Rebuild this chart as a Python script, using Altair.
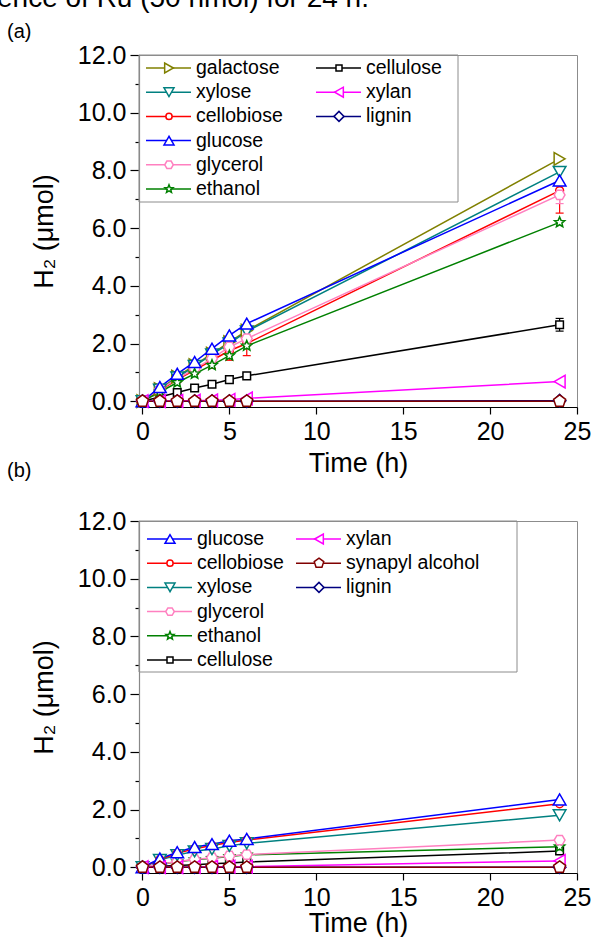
import math
import altair as alt
import pandas as pd

# Sampling times (h)
T = [0, 1, 2, 3, 4, 5, 6, 24]

# Panel (a): H2 evolved (umol)
A_GALACTOSE = [0, 0.42, 0.85, 1.25, 1.65, 2.05, 2.45, 8.40]
A_XYLOSE = [0, 0.40, 0.82, 1.22, 1.62, 2.00, 2.42, 7.95]
A_CELLOBIOSE = [0, 0.38, 0.75, 1.08, 1.42, 1.75, 2.00, 7.30]
A_GLUCOSE = [0, 0.49, 0.95, 1.36, 1.82, 2.28, 2.69, 7.65]
A_GLYCEROL = [0, 0.40, 0.78, 1.12, 1.48, 1.88, 2.17, 7.15]
A_ETHANOL = [0, 0.32, 0.65, 0.95, 1.25, 1.58, 1.92, 6.20]
A_CELLULOSE = [0, 0.15, 0.30, 0.46, 0.59, 0.75, 0.88, 2.65]
A_XYLAN = [0, 0.00, 0.01, 0.02, 0.03, 0.05, 0.10, 0.68]
A_LIGNIN = [0, 0, 0, 0, 0, 0, 0, 0.02]
A_SYNAPYL = [0, 0, 0, 0, 0, 0, 0, 0]

# Panel (a): standard deviations
A_CELLOBIOSE_ERR = [0, 0.05, 0.10, 0.15, 0.28, 0.33, 0.42, 0.78]
A_CELLULOSE_ERR = [0, 0.02, 0.03, 0.04, 0.05, 0.06, 0.08, 0.22]
A_GLYCEROL_ERR = [0, 0.03, 0.05, 0.08, 0.10, 0.12, 0.15, 0.30]

# Panel (b): H2 evolved (umol)
B_GLUCOSE = [0, 0.30, 0.52, 0.70, 0.80, 0.92, 0.98, 2.35]
B_CELLOBIOSE = [0, 0.27, 0.48, 0.64, 0.75, 0.86, 0.94, 2.20]
B_XYLOSE = [0, 0.25, 0.42, 0.55, 0.63, 0.74, 0.83, 1.80]
B_GLYCEROL = [0, 0.10, 0.20, 0.27, 0.33, 0.39, 0.44, 0.94]
B_ETHANOL = [0, 0.10, 0.19, 0.26, 0.31, 0.37, 0.43, 0.71]
B_CELLULOSE = [0, 0.03, 0.06, 0.09, 0.12, 0.15, 0.18, 0.56]
B_XYLAN = [0, 0.00, 0.00, 0.01, 0.01, 0.02, 0.02, 0.22]
B_SYNAPYL = [0, 0, 0, 0, 0, 0, 0, 0]
B_LIGNIN = [0, 0, 0, 0, 0, 0, 0, 0]

# Legend columns
A_LEGEND = [["galactose", "xylose", "cellobiose", "glucose", "glycerol", "ethanol"],
            ["cellulose", "xylan", "lignin"]]
B_LEGEND = [["glucose", "cellobiose", "xylose", "glycerol", "ethanol", "cellulose"],
            ["xylan", "synapyl alcohol", "lignin"]]

SERIES = ["galactose", "xylose", "cellobiose", "glucose", "glycerol", "ethanol",
          "cellulose", "xylan", "lignin", "synapyl alcohol"]
COLORS = ["#808000", "#008080", "#FF0000", "#0000FF", "#FF80C0", "#008000",
          "#000000", "#FF00FF", "#000080", "#800000"]


def polygon(n, r, rot):
    pts = [(r * math.cos(rot + 2 * math.pi * k / n), r * math.sin(rot + 2 * math.pi * k / n))
           for k in range(n)]
    return "M" + "L".join(f"{x:.3f},{y:.3f}" for x, y in pts) + "Z"


def star(r_out, r_in):
    pts = []
    for k in range(10):
        r = r_out if k % 2 == 0 else r_in
        a = -math.pi / 2 + math.pi * k / 5
        pts.append((r * math.cos(a), r * math.sin(a)))
    return "M" + "L".join(f"{x:.3f},{y:.3f}" for x, y in pts) + "Z"


CIRCLE = "M-0.62,0A0.62,0.62,0,1,0,0.62,0A0.62,0.62,0,1,0,-0.62,0Z"
SQUARE = "M-0.6,-0.6H0.6V0.6H-0.6Z"
SHAPES = ["triangle-right", "triangle-down", CIRCLE, "triangle-up",
          polygon(6, 0.85, 0.0), star(0.85, 0.38), SQUARE, "triangle-left",
          "diamond", polygon(5, 1.0, -math.pi / 2)]

COLOR = alt.Color("series:N", scale=alt.Scale(domain=SERIES, range=COLORS), legend=None)
SHAPE = alt.Shape("series:N", scale=alt.Scale(domain=SERIES, range=SHAPES), legend=None)

FONT = "Liberation Sans"


def frame(values, errors, order):
    rows = []
    for name in order:
        vals = values[name]
        errs = errors.get(name, [0] * len(T))
        for t, v, e in zip(T, vals, errs):
            rows.append({"series": name, "t": t, "v": v, "err": e})
    return pd.DataFrame(rows)


def legend_frame(columns):
    rows = []
    for c, names in enumerate(columns):
        for r, name in enumerate(names):
            rows.append({"series": name, "col": c, "row": r})
    return pd.DataFrame(rows)


def panel(df, leg_df, label, geom):
    x_scale = alt.Scale(domain=[-0.2, 25], nice=False, zero=False)
    y_scale = alt.Scale(domain=[-0.2, 12], nice=False, zero=False)
    x_axis = alt.Axis(values=[0, 5, 10, 15, 20, 25], format="d", title="Time (h)",
                      tickSize=7, labelPadding=5, titlePadding=geom["title_pad"],
                      domainColor="#000000", labelFlush=False, grid=False)
    y_axis = alt.Axis(values=list(range(13)),
                      labelExpr="datum.value % 2 === 0 ? format(datum.value, '.1f') : ''",
                      tickSize={"condition": {"test": "datum.value % 2 === 0", "value": 9},
                                "value": 4},
                      labelPadding=4, titlePadding=19, title="H₂ (μmol)",
                      domainColor="#888888", labelFlush=False, grid=False)
    X = alt.X("t:Q", scale=x_scale, axis=x_axis)
    base = alt.Chart(df)

    lines = base.mark_line(strokeWidth=1.5).encode(
        X, alt.Y("v:Q", scale=y_scale, axis=y_axis), color=COLOR)

    errs = base.transform_filter("datum.err > 0").transform_calculate(
        lo="datum.v - datum.err", hi="datum.v + datum.err")
    err_rule = errs.mark_rule(strokeWidth=1.2).encode(
        X, alt.Y("lo:Q", scale=y_scale, axis=y_axis), y2="hi:Q", color=COLOR)
    err_caps = errs.transform_fold(["lo", "hi"], as_=["end", "ev"]).mark_point(
        shape="stroke", size=64, strokeWidth=1.2, opacity=1).encode(
        X, alt.Y("ev:Q", scale=y_scale, axis=y_axis), color=COLOR)

    pts = base.mark_point(size=160, fill="white", strokeWidth=1.5, opacity=1).encode(
        X, alt.Y("v:Q", scale=y_scale, axis=y_axis), color=COLOR, shape=SHAPE)

    data_group = alt.layer(lines, err_rule, err_caps, pts)

    # legend drawn from its own table on grid scales
    lx = alt.Scale(domain=[0, 1], range=geom["xr"])
    ly = alt.Scale(domain=[0, 5], range=geom["yr"])
    leg = alt.Chart(leg_df)
    LX = alt.X("col:Q", scale=lx, axis=None)
    LY = alt.Y("row:Q", scale=ly, axis=None)
    box = leg.transform_aggregate(
        c0="min(col)", c1="max(col)", r0="min(row)", r1="max(row)"
    ).mark_rect(fill="white", fillOpacity=0, stroke="#8c8c8c", strokeWidth=1,
                xOffset=geom["box"][0], x2Offset=geom["box"][1],
                yOffset=geom["box"][2], y2Offset=geom["box"][3]).encode(
        x=alt.X("c0:Q", scale=lx, axis=None), x2="c1:Q",
        y=alt.Y("r0:Q", scale=ly, axis=None), y2="r1:Q")
    seg = leg.mark_rule(strokeWidth=1.5, xOffset=-23, x2Offset=22).encode(
        LX, x2="col:Q", y=LY, color=COLOR)
    mk = leg.mark_point(size=100, fill="white", strokeWidth=1.5, opacity=1).encode(
        LX, LY, color=COLOR, shape=SHAPE)
    txt = leg.mark_text(align="left", baseline="middle", dx=27, fontSize=19.5,
                        font=FONT, color="#000000").encode(LX, LY, text="series:N")
    legend_group = alt.layer(box, seg, mk, txt)

    return alt.layer(data_group, legend_group).resolve_scale(
        x="independent", y="independent"
    ).properties(
        width=438, height=352,
        title=alt.TitleParams(label, anchor="start", frame="group", dx=-132,
                              dy=geom["label_dy"], fontSize=20, fontWeight="normal",
                              font=FONT, color="#000000", baseline="middle", offset=8),
    )


vals_a = {"galactose": A_GALACTOSE, "xylose": A_XYLOSE, "cellobiose": A_CELLOBIOSE,
          "glucose": A_GLUCOSE, "glycerol": A_GLYCEROL, "ethanol": A_ETHANOL,
          "cellulose": A_CELLULOSE, "xylan": A_XYLAN, "lignin": A_LIGNIN,
          "synapyl alcohol": A_SYNAPYL}
errs_a = {"cellobiose": A_CELLOBIOSE_ERR, "cellulose": A_CELLULOSE_ERR,
          "glycerol": A_GLYCEROL_ERR}
order_a = ["cellulose", "lignin", "galactose", "xylose", "cellobiose", "glycerol",
           "ethanol", "glucose", "xylan", "synapyl alcohol"]

vals_b = {"glucose": B_GLUCOSE, "cellobiose": B_CELLOBIOSE, "xylose": B_XYLOSE,
          "glycerol": B_GLYCEROL, "ethanol": B_ETHANOL, "cellulose": B_CELLULOSE,
          "xylan": B_XYLAN, "synapyl alcohol": B_SYNAPYL, "lignin": B_LIGNIN}
order_b = ["lignin", "cellulose", "ethanol", "glycerol", "xylose", "cellobiose",
           "glucose", "xylan", "synapyl alcohol"]

top = panel(frame(vals_a, errs_a, order_a), legend_frame(A_LEGEND), "(a)",
            {"xr": [30, 200], "yr": [13, 134], "box": [-30, 119, -13, 13],
             "label_dy": 17, "title_pad": 6})
bottom = panel(frame(vals_b, {}, order_b), legend_frame(B_LEGEND), "(b)",
               {"xr": [31, 180], "yr": [18, 139], "box": [-31, 198, -18, 12],
                "label_dy": -10, "title_pad": 0})

chart = alt.vconcat(top, bottom, spacing=114, bounds="flush").properties(
    padding={"left": -3, "top": -16, "right": 0, "bottom": 0},
    title=alt.TitleParams("ence of Ru (50 nmol) for 24 h.", anchor="start", frame="group",
                          dx=-142, dy=13, fontSize=28, fontWeight="normal", font=FONT,
                          color="#000000", baseline="alphabetic", offset=0),
).configure(
    font=FONT,
).configure_view(
    stroke="#8c8c8c", strokeWidth=1,
).configure_axis(
    labelFont=FONT, titleFont=FONT, labelFontSize=25, titleFontSize=27,
    labelColor="#000000", titleColor="#000000", tickColor="#000000",
    titleFontWeight="normal", domainWidth=1.2, tickWidth=1.2,
)

chart.save("out.html", embed_options={"renderer": "svg", "actions": False})
